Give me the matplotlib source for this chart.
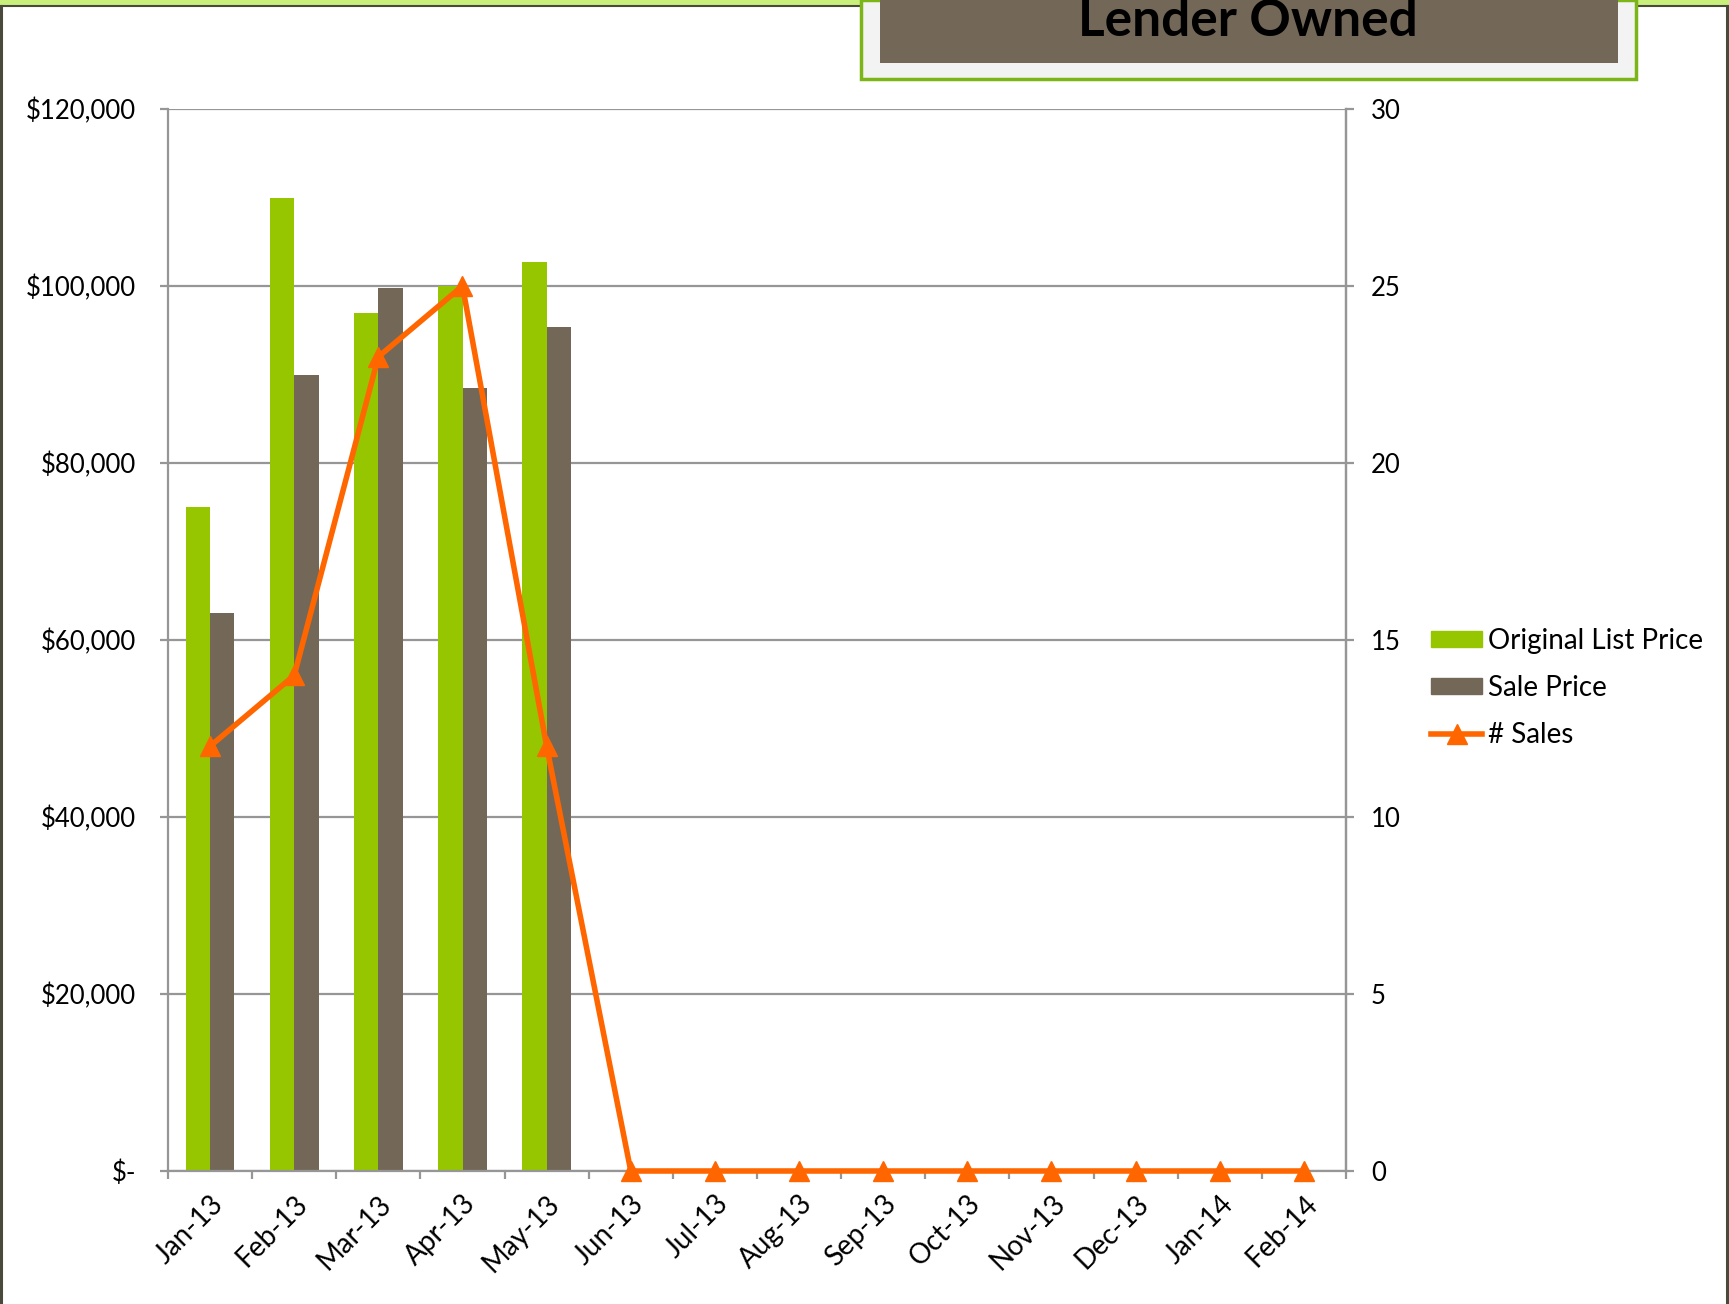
import matplotlib
matplotlib.use("Agg")
import matplotlib.pyplot as plt
from matplotlib.patches import Rectangle
from matplotlib.lines import Line2D
import numpy as np

months = ["Jan-13", "Feb-13", "Mar-13", "Apr-13", "May-13", "Jun-13", "Jul-13",
          "Aug-13", "Sep-13", "Oct-13", "Nov-13", "Dec-13", "Jan-14", "Feb-14"]
list_price = [75000, 110000, 97000, 100000, 102700, 0, 0, 0, 0, 0, 0, 0, 0, 0]
sale_price = [63000, 90000, 99800, 88500, 95400, 0, 0, 0, 0, 0, 0, 0, 0, 0]
num_sales = [12, 14, 23, 25, 12, 0, 0, 0, 0, 0, 0, 0, 0, 0]
left_ticks = [0, 20000, 40000, 60000, 80000, 100000, 120000]
left_labels = ["$-", "$20,000", "$40,000", "$60,000", "$80,000", "$100,000", "$120,000"]
right_ticks = [0, 5, 10, 15, 20, 25, 30]
title = "Lender Owned"

GREEN = "#95c600"
BROWN = "#736858"
ORANGE = "#ff6600"
GRID = "#969696"
FONT = ["Lato", "DejaVu Sans"]
plt.rcParams['font.family'] = FONT

W, H = 1729, 1304
fig = plt.figure(figsize=(W / 100, H / 100), dpi=100)

def fx(px):
    return px / W

def fy(py):
    return 1 - py / H

ax = fig.add_axes([fx(168), fy(1171), fx(1346) - fx(168), fy(109) - fy(1171)])
x = np.arange(len(months))
bw = 0.29
ax.bar(x - bw / 2, [v if v else np.nan for v in list_price], width=bw, color=GREEN,
       label="Original List Price", zorder=2)
ax.bar(x + bw / 2, [v if v else np.nan for v in sale_price], width=bw, color=BROWN,
       label="Sale Price", zorder=2)
ax.set_xlim(-0.5, len(months) - 0.5)
ax.set_ylim(0, 120000)
ax.set_yticks(left_ticks)
ax.set_yticklabels(left_labels)
ax.yaxis.grid(True, color=GRID, linewidth=1.6)
ax.set_axisbelow(True)
ax.spines["top"].set_visible(False)
for s in ["left", "right", "bottom"]:
    ax.spines[s].set_color(GRID)
    ax.spines[s].set_linewidth(1.6)
ax.tick_params(axis="y", length=6, width=1.6, color=GRID, pad=17, labelsize=18.5)

ax.set_xticks(x)
ax.set_xticklabels(months, rotation=45, ha="right", rotation_mode="anchor", fontsize=20)
ax.tick_params(axis="x", which="major", length=0, pad=14)
ax.set_xticks(np.arange(-0.5, len(months), 1.0), minor=True)
ax.tick_params(axis="x", which="minor", length=6, width=1.6, color=GRID)

ax2 = ax.twinx()
ax2.plot(x, num_sales, color=ORANGE, linewidth=4, marker="^", markersize=15,
         label="# Sales", zorder=5, clip_on=False)
ax2.set_ylim(0, 30)
ax2.set_yticks(right_ticks)
ax2.tick_params(axis="y", length=6, width=1.6, color=GRID, pad=12, labelsize=18.5)
for s in ["top", "left", "bottom"]:
    ax2.spines[s].set_visible(False)
ax2.spines["right"].set_color(GRID)
ax2.spines["right"].set_linewidth(1.6)

handles = [Rectangle((0, 0), 1, 1, color=GREEN), Rectangle((0, 0), 1, 1, color=BROWN),
           Line2D([], [], color=ORANGE, linewidth=4, marker="^", markersize=15)]
fig.legend(handles, ["Original List Price", "Sale Price", "# Sales"],
           loc="upper left", bbox_to_anchor=(fx(1417), fy(614)), frameon=False,
           fontsize=20, handlelength=1.85, handleheight=0.5, handletextpad=0.2,
           labelspacing=0.75, borderpad=0)

# frame decorations
fig.patches.append(Rectangle((0, fy(5)), 1, 1 - fy(5), transform=fig.transFigure,
                             color="#c8f07a", zorder=0))
fig.lines.append(Line2D([0, 1], [fy(5.5), fy(5.5)], transform=fig.transFigure,
                        color="#4a4a3c", linewidth=1.5))
fig.lines.append(Line2D([fx(1), fx(1)], [0, fy(5.5)], transform=fig.transFigure,
                        color="#4a4a3c", linewidth=2.2))
fig.lines.append(Line2D([fx(1727), fx(1727)], [0, fy(5.5)], transform=fig.transFigure,
                        color="#4a4a3c", linewidth=2.2))

# title box
fig.patches.append(Rectangle((fx(861), fy(79)), fx(1636) - fx(861), fy(0) - fy(79),
                             transform=fig.transFigure, facecolor="#f3f3f3",
                             edgecolor="#7cb518", linewidth=2.5, zorder=3))
fig.patches.append(Rectangle((fx(880), fy(63)), fx(1618) - fx(880), fy(0) - fy(63),
                             transform=fig.transFigure, facecolor=BROWN,
                             edgecolor="none", zorder=4))
fig.text(fx(1248), fy(21), title, ha="center", va="center", fontsize=37,
         fontweight="bold", color="black", zorder=5)

fig.savefig("out.png", dpi=100)
